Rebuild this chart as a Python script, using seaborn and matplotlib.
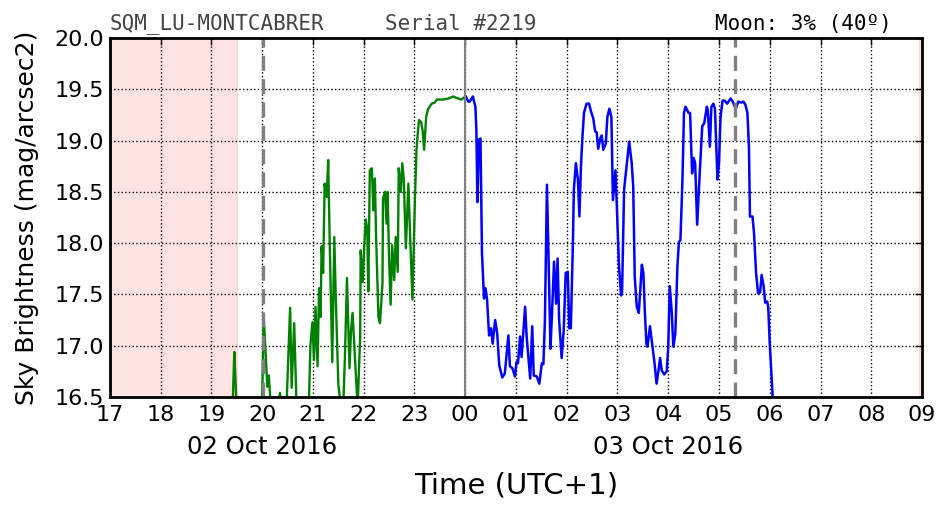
import matplotlib
matplotlib.use("Agg")
import matplotlib.pyplot as plt
import matplotlib.transforms as mtransforms
import seaborn as sns
import pandas as pd

# hours since 02 Oct 2016 00:00 (UTC+1) and sky brightness (mag/arcsec2)
green_t = [19.36, 19.42, 19.45, 19.47, 19.50, 19.66, 19.86, 19.995, 20.03, 20.07,
           20.10, 20.13, 20.17, 20.27, 20.35, 20.39, 20.47, 20.55, 20.58, 20.63,
           20.68, 20.80, 20.92, 20.95, 20.99, 21.02, 21.05, 21.09, 21.12, 21.15,
           21.17, 21.20, 21.23, 21.27, 21.30, 21.33, 21.38, 21.42, 21.45, 21.50,
           21.55, 21.60, 21.63, 21.67, 21.72, 21.75, 21.78, 21.83, 21.88, 21.93,
           21.94, 21.98, 22.01, 22.04, 22.07, 22.09, 22.12, 22.16, 22.19, 22.22,
           22.24, 22.29, 22.32, 22.37, 22.38, 22.42, 22.45, 22.47, 22.50, 22.53,
           22.56, 22.60, 22.63, 22.67, 22.69, 22.73, 22.76, 22.79, 22.83, 22.88,
           22.91, 22.96, 23.01, 23.04, 23.07, 23.09, 23.13, 23.16, 23.19, 23.23,
           23.27, 23.34, 23.40, 23.44, 23.50, 23.56, 23.67, 23.76, 23.86, 23.92,
           23.98, 24.01]
green_mag = [16.30, 16.45, 16.94, 16.70, 16.35, 16.20, 16.20, 16.40, 17.28, 16.90,
             16.60, 16.71, 16.40, 16.30, 16.54, 16.35, 16.30, 17.37, 16.59, 17.22,
             16.35, 16.20, 16.45, 17.01, 17.23, 16.86, 17.38, 16.80, 17.56, 17.28,
             17.97, 17.71, 18.58, 18.45, 18.81, 18.00, 16.84, 18.06, 17.45, 16.62,
             16.40, 16.45, 16.90, 17.66, 16.78, 17.15, 17.32, 16.86, 16.40, 17.09,
             17.93, 17.62, 17.97, 18.23, 18.13, 17.53, 18.71, 18.73, 18.32, 18.63,
             18.13, 17.28, 17.22, 17.61, 18.44, 18.50, 18.19, 18.50, 17.84, 17.40,
             17.98, 17.64, 18.06, 17.72, 18.73, 18.50, 18.78, 18.62, 17.95, 18.58,
             18.13, 17.45, 18.45, 18.91, 19.10, 19.20, 19.18, 19.10, 18.91, 19.23,
             19.31, 19.36, 19.37, 19.40, 19.40, 19.40, 19.41, 19.43, 19.41, 19.40,
             19.42, 19.43]

blue_t = [24.01, 24.06, 24.09, 24.15, 24.20, 24.22, 24.24, 24.27, 24.30, 24.33,
          24.37, 24.40, 24.43, 24.47, 24.51, 24.54, 24.59, 24.63, 24.67, 24.73,
          24.78, 24.85, 24.88, 24.93, 24.98, 25.01, 25.04, 25.08, 25.11, 25.18,
          25.21, 25.28, 25.32, 25.35, 25.41, 25.46, 25.51, 25.54, 25.57, 25.61,
          25.65, 25.68, 25.71, 25.75, 25.79, 25.82, 25.85, 25.90, 25.94, 25.98,
          26.02, 26.05, 26.08, 26.12, 26.14, 26.18, 26.22, 26.25, 26.28, 26.31,
          26.34, 26.39, 26.44, 26.48, 26.52, 26.56, 26.59, 26.62, 26.66, 26.69,
          26.72, 26.77, 26.80, 26.84, 26.88, 26.91, 26.96, 26.99, 27.03, 27.07,
          27.09, 27.13, 27.18, 27.23, 27.28, 27.31, 27.34, 27.38, 27.42, 27.48,
          27.51, 27.54, 27.57, 27.59, 27.64, 27.69, 27.73, 27.77, 27.80, 27.84,
          27.87, 27.92, 27.97, 28.00, 28.03, 28.07, 28.10, 28.14, 28.18, 28.21,
          28.24, 28.28, 28.31, 28.34, 28.40, 28.43, 28.47, 28.50, 28.53, 28.57,
          28.62, 28.67, 28.71, 28.76, 28.78, 28.82, 28.85, 28.89, 28.92, 28.97,
          29.00, 29.03, 29.07, 29.11, 29.16, 29.23, 29.27, 29.33, 29.38, 29.43,
          29.48, 29.52, 29.56, 29.59, 29.61, 29.66, 29.69, 29.73, 29.77, 29.81,
          29.84, 29.88, 29.91, 29.95, 29.97, 30.00, 30.04, 30.06, 30.10]
blue_mag = [19.43, 19.38, 19.38, 19.43, 19.33, 19.10, 18.40, 19.01, 19.02, 17.90,
            17.46, 17.56, 17.45, 17.10, 17.17, 17.02, 17.25, 17.12, 16.81, 16.69,
            16.73, 17.10, 16.80, 16.78, 16.70, 16.84, 16.83, 17.09, 16.89, 17.38,
            17.09, 16.68, 17.19, 16.71, 16.70, 16.63, 16.83, 16.82, 17.25, 18.57,
            17.67, 16.97, 17.32, 17.82, 17.41, 17.85, 17.25, 16.88, 17.15, 17.71,
            17.72, 17.17, 17.17, 17.97, 18.52, 18.78, 18.62, 18.26, 18.75, 19.04,
            19.27, 19.36, 19.36, 19.28, 19.22, 19.09, 19.08, 18.92, 19.02, 19.05,
            18.91, 18.97, 19.23, 19.31, 19.23, 18.42, 18.71, 18.32, 17.77, 17.49,
            17.52, 18.52, 18.75, 18.99, 18.78, 18.55, 17.67, 17.38, 17.32, 17.79,
            17.71, 17.32, 17.02, 16.99, 17.19, 16.99, 16.83, 16.63, 16.73, 16.88,
            16.76, 16.72, 16.75, 16.99, 17.58, 17.32, 16.99, 17.12, 17.77, 18.01,
            18.03, 18.62, 19.27, 19.33, 19.27, 19.27, 18.68, 18.83, 18.78, 18.18,
            18.68, 19.14, 19.17, 19.33, 19.30, 18.94, 19.33, 19.36, 19.31, 18.62,
            18.78, 19.23, 19.39, 19.39, 19.36, 19.41, 19.38, 19.31, 19.38, 19.37,
            19.38, 19.35, 19.27, 18.94, 18.26, 18.26, 18.10, 17.71, 17.51, 17.52,
            17.69, 17.58, 17.42, 17.43, 17.38, 17.02, 16.67, 16.48, 16.20]

tick_hours = list(range(17, 34))
tick_labels = ["17", "18", "19", "20", "21", "22", "23", "00", "01", "02",
               "03", "04", "05", "06", "07", "08", "09"]
date_labels = ["02 Oct 2016", "03 Oct 2016"]
date_hours = [20, 28]

twilight_spans = [(17.0, 19.50), (32.95, 33.0)]
sun_lines = [20.02, 29.32]  # dashed markers
midnight = 24.0

title_left = "SQM_LU-MONTCABRER"
title_mid = "Serial #2219"
title_right = "Moon: 3% (40º)"

df_g = pd.DataFrame({"t": green_t, "mag": green_mag})
df_b = pd.DataFrame({"t": blue_t, "mag": blue_mag})

sns.set_style("white")
plt.rcParams["font.family"] = ["DejaVu Sans"]
plt.rcParams["text.color"] = "black"
plt.rcParams["axes.labelcolor"] = "black"
plt.rcParams["xtick.color"] = "black"
plt.rcParams["ytick.color"] = "black"

fig = plt.figure(figsize=(9.52, 5.12), dpi=100)
ax = fig.add_axes([0.1155, 0.2246, 0.853, 0.7012])

for a, b in twilight_spans:
    ax.axvspan(a, b, color="red", alpha=0.11, lw=1)

sns.lineplot(data=df_g, x="t", y="mag", color="green", lw=1.7, ax=ax)
sns.lineplot(data=df_b, x="t", y="mag", color="blue", lw=1.8, ax=ax)

ax.axvline(midnight, color="gray", lw=1.5)
for h in sun_lines:
    ax.axvline(h, color="gray", lw=2.4, ls="--", dashes=(4.5, 2.5))

ax.set_xlim(17, 33)
ax.set_ylim(16.5, 20.0)
ax.set_xticks(tick_hours)
ax.set_xticklabels(tick_labels)
ax.set_yticks([16.5, 17.0, 17.5, 18.0, 18.5, 19.0, 19.5, 20.0])
ax.set_yticklabels(["16.5", "17.0", "17.5", "18.0", "18.5", "19.0", "19.5", "20.0"])
ax.grid(True, color="black", ls=":", lw=1)
ax.tick_params(direction="in", length=5, width=1, labelsize=16,
               top=True, right=True, pad=4)
ax.tick_params(axis="x", pad=6)
for s in ax.spines.values():
    s.set_linewidth(2)
    s.set_color("black")

ax.set_xlabel("Time (UTC+1)", fontsize=21, labelpad=33)
ax.set_ylabel("Sky Brightness (mag/arcsec2)", fontsize=18, labelpad=11)

trans = mtransforms.blended_transform_factory(ax.transData, ax.transAxes)
for h, lab in zip(date_hours, date_labels):
    ax.text(h, -0.105, lab, transform=trans, ha="center", va="top", fontsize=17.5)

ax.text(0.0, 1.012, title_left, transform=ax.transAxes, ha="left", va="bottom",
        family="DejaVu Sans Mono", fontsize=15, color="#444444")
ax.text(0.339, 1.012, title_mid, transform=ax.transAxes, ha="left", va="bottom",
        family="DejaVu Sans Mono", fontsize=15, color="#444444")
ax.text(0.963, 1.012, title_right, transform=ax.transAxes, ha="right", va="bottom",
        family="DejaVu Sans Mono", fontsize=15, color="black")

fig.savefig("out.png", dpi=100)
